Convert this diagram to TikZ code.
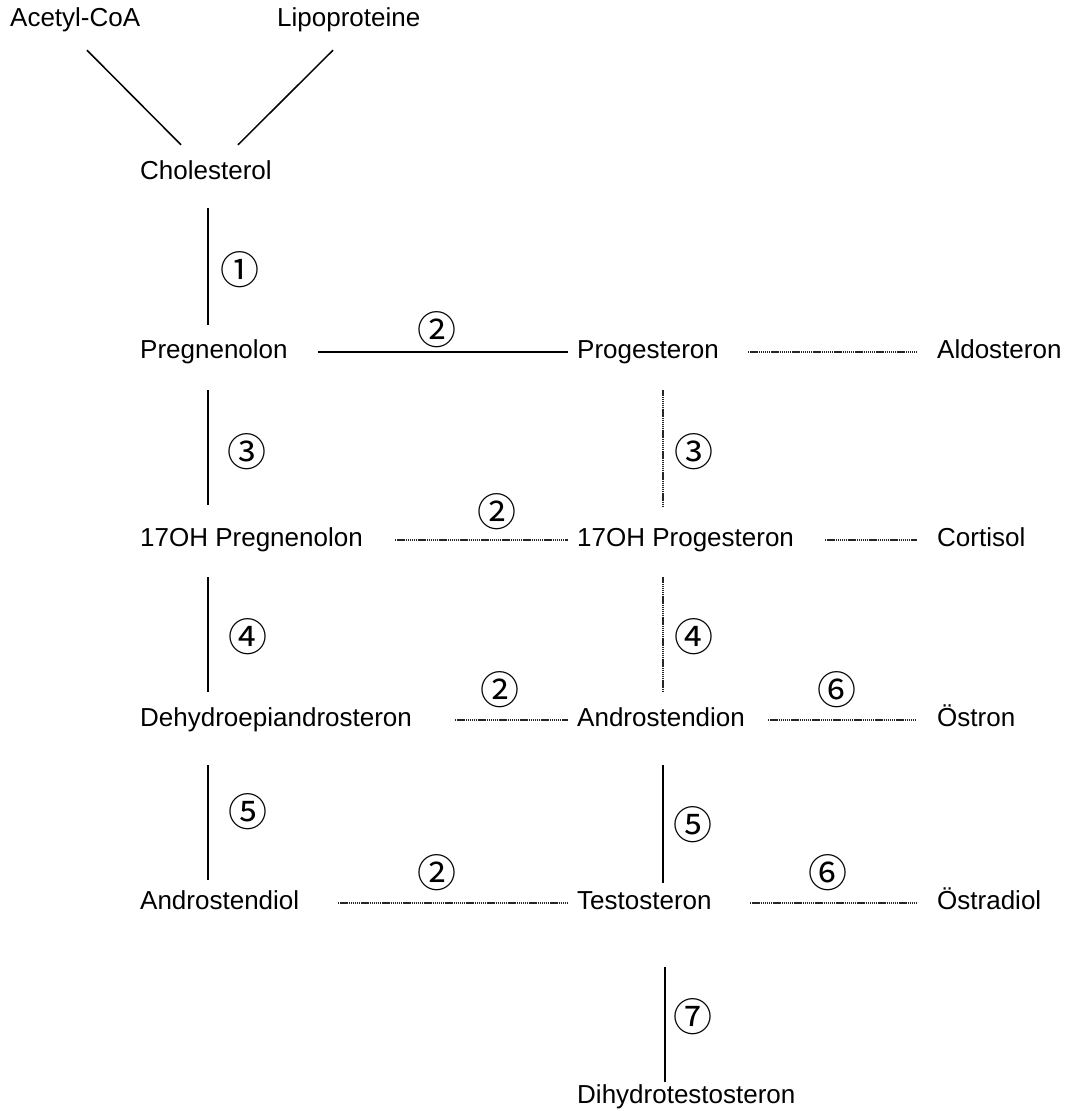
\documentclass[tikz,border=0pt]{standalone}
\usepackage{fontspec}
\setmainfont{Liberation Sans}
\newfontfamily\circfont{Noto Sans CJK JP}

\begin{document}
\begin{tikzpicture}[x=1pt,y=-1pt,
    mol/.style={anchor=west,inner sep=0pt,text height=19pt,text depth=6pt,font=\fontsize{26}{30}\selectfont},
    enz/.style={inner sep=0pt,font=\circfont\fontsize{39}{42}\selectfont},
    plainline/.style={draw=black,solid,line width=1.5pt},
    dotline/.style={draw=black!85,line width=1.3pt,dash pattern=on 1.4pt off 0.7pt}]
    \useasboundingbox (0,0) rectangle (1069,1111);

    \node[mol] (acetyl) at (10,20) {Acetyl-CoA};
    \node[mol] (lipo) at (277,20) {Lipoproteine};
    \node[mol] (chol) at (140,173) {Cholesterol};
    \node[mol] (preg) at (140,352) {Pregnenolon};
    \node[mol] (prog) at (577,352) {Progesteron};
    \node[mol] (aldo) at (937,352) {Aldosteron};
    \node[mol] (ohpreg) at (140,540) {17OH Pregnenolon};
    \node[mol] (ohprog) at (577,540) {17OH Progesteron};
    \node[mol] (cort) at (937,540) {Cortisol};
    \node[mol] (dhea) at (140,720) {Dehydroepiandrosteron};
    \node[mol] (andro) at (577,720) {Androstendion};
    \node[mol] (estron) at (937,720) {Östron};
    \node[mol] (adiol) at (140,903) {Androstendiol};
    \node[mol] (testo) at (577,903) {Testosteron};
    \node[mol] (estradiol) at (937,903) {Östradiol};
    \node[mol] (dht) at (577,1097) {Dihydrotestosteron};

    % enzyme steps
    \node[enz] (e1) at (240,270) {①};
    \node[enz] (e2a) at (437,330) {②};
    \node[enz] (e3a) at (247,452) {③};
    \node[enz] (e3b) at (694,452) {③};
    \node[enz] (e2b) at (497,512) {②};
    \node[enz] (e4a) at (248,637) {④};
    \node[enz] (e4b) at (694,637) {④};
    \node[enz] (e2c) at (500,690) {②};
    \node[enz] (e6a) at (837,690) {⑥};
    \node[enz] (e5a) at (248,812) {⑤};
    \node[enz] (e5b) at (693,825) {⑤};
    \node[enz] (e2d) at (437,873) {②};
    \node[enz] (e6b) at (828,873) {⑥};
    \node[enz] (e7) at (693,1017) {⑦};

    \path
    ([shift={(77,17.5)}]acetyl.south west) edge [plainline] ([shift={(41,-15.5)}]chol.north west)
    ([shift={(56,17.5)}]lipo.south west) edge [plainline] ([shift={(98,-15.5)}]chol.north west)
    % left column
    ([xshift=68]chol.south west) edge [plainline,shorten <=22.5pt,shorten >=14.5pt] ([xshift=68]preg.north west)
    ([xshift=68]preg.south west) edge [plainline,shorten <=25.5pt,shorten >=22.5pt] ([xshift=68]ohpreg.north west)
    ([xshift=68]ohpreg.south west) edge [plainline,shorten <=24.5pt,shorten >=15.5pt] ([xshift=68]dhea.north west)
    ([xshift=68]dhea.south west) edge [plainline,shorten <=32.5pt,shorten >=10.5pt] ([xshift=68]adiol.north west)
    % right column
    ([xshift=86]prog.south west) edge [dotline,shorten <=25.5pt,shorten >=20.5pt] ([xshift=86]ohprog.north west)
    ([xshift=86]ohprog.south west) edge [dotline,shorten <=24.5pt,shorten >=15.5pt] ([xshift=86]andro.north west)
    ([xshift=86]andro.south west) edge [plainline,shorten <=32.5pt,shorten >=7.5pt] ([xshift=86]testo.north west)
    ([xshift=88]testo.south west) edge [plainline,shorten <=51.5pt,shorten >=2.5pt] ([xshift=88]dht.north west)
    % rows
    ([xshift=178]preg.west) edge [plainline] ([xshift=-9]prog.west)
    ([xshift=171]prog.west) edge [dotline] ([xshift=-20]aldo.west)
    ([xshift=255]ohpreg.west) edge [dotline] ([xshift=-9]ohprog.west)
    ([xshift=248]ohprog.west) edge [dotline] ([xshift=-20]cort.west)
    ([xshift=315]dhea.west) edge [dotline] ([xshift=-9]andro.west)
    ([xshift=191]andro.west) edge [dotline] ([xshift=-20]estron.west)
    ([xshift=198]adiol.west) edge [dotline] ([xshift=-9]testo.west)
    ([xshift=173]testo.west) edge [dotline] ([xshift=-20]estradiol.west)
    ;
\end{tikzpicture}
\end{document}
